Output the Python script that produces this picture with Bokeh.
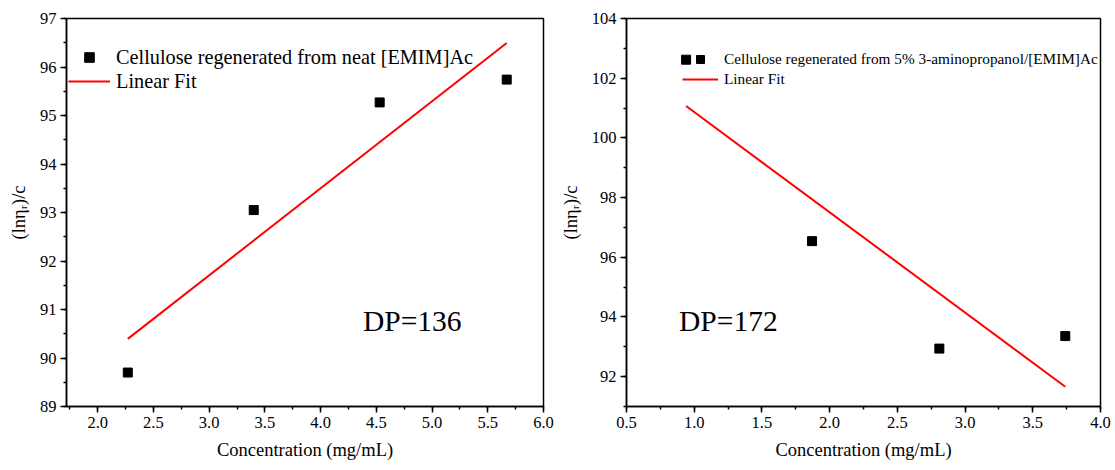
import numpy as np
from bokeh.plotting import figure
from bokeh.layouts import row
from bokeh.models import (Legend, LegendItem, Label, Range1d, SingleIntervalTicker,
                          NumeralTickFormatter)
from bokeh.embed import file_html
from bokeh.resources import INLINE

# ---- data ----
conc_a = [2.27, 3.40, 4.53, 5.67]
visc_a = [89.70, 93.05, 95.27, 95.74]
conc_b = [0.94, 1.87, 2.81, 3.74]
visc_b = [102.62, 96.54, 92.94, 93.36]
label_a = "Cellulose regenerated from neat [EMIM]Ac"
label_b = "Cellulose regenerated from 5% 3-aminopropanol/[EMIM]Ac"
fit_label = "Linear Fit"
dp_a = "DP=136"
dp_b = "DP=172"
x_title = "Concentration (mg/mL)"
y_title = "(lnη\u1d63)/c"

FONT = "'Liberation Serif', 'Times New Roman', serif"


def make(conc, visc, xr, yr, xint, yint, width, bl, br, leg_label, leg_font,
         leg_loc, glyph_w, row_h, dp_text, dp_xy):
    p = figure(width=width, height=470, x_range=Range1d(*xr), y_range=Range1d(*yr),
               output_backend="svg", toolbar_location=None,
               min_border_left=bl, min_border_right=br, min_border_top=18,
               min_border_bottom=64)
    p.grid.visible = False
    p.outline_line_color = "black"
    p.outline_line_width = 1.5
    p.background_fill_color = "white"
    p.border_fill_color = "white"

    p.xaxis.ticker = SingleIntervalTicker(interval=xint, num_minor_ticks=2)
    p.yaxis.ticker = SingleIntervalTicker(interval=yint, num_minor_ticks=2)
    p.xaxis.formatter = NumeralTickFormatter(format="0.0")
    p.yaxis.formatter = NumeralTickFormatter(format="0")
    for ax in (p.xaxis[0], p.yaxis[0]):
        ax.axis_line_color = "black"
        ax.axis_line_width = 1.5
        ax.major_tick_line_width = 1.5
        ax.minor_tick_line_width = 1.5
        ax.major_tick_out = 6
        ax.major_tick_in = 0
        ax.minor_tick_out = 3
        ax.minor_tick_in = 0
        ax.major_label_text_font = FONT
        ax.major_label_text_font_size = "16.5px"
        ax.major_label_text_color = "black"
        ax.axis_label_text_font = FONT
        ax.axis_label_text_font_size = "18.5px"
        ax.axis_label_text_font_style = "normal"
        ax.axis_label_text_color = "black"
        ax.major_label_standoff = 4
    p.xaxis.axis_label = x_title
    p.yaxis.axis_label = y_title
    p.xaxis.axis_label_standoff = 9
    p.yaxis.axis_label_standoff = 8

    a, b = np.polyfit(conc, visc, 1)
    fx = [min(conc), max(conc)]
    fy = [a * v + b for v in fx]
    ln = p.line(fx, fy, line_color="#ff0000", line_width=2)
    sc = p.scatter(conc, visc, marker="square", size=9, fill_color="black",
                   line_color="black")

    leg = Legend(items=[LegendItem(label=leg_label, renderers=[sc]),
                        LegendItem(label=fit_label, renderers=[ln])],
                 location=leg_loc, border_line_alpha=0, background_fill_alpha=0,
                 padding=0, margin=0, spacing=0, glyph_width=glyph_w,
                 glyph_height=row_h, label_height=row_h, label_standoff=6,
                 label_text_font=FONT, label_text_font_size=leg_font,
                 label_text_color="black")
    p.add_layout(leg, "center")

    p.add_layout(Label(x=dp_xy[0], y=dp_xy[1], text=dp_text, text_font=FONT,
                       text_font_size="29.5px", text_baseline="middle",
                       text_color="black"))
    return p


p1 = make(conc_a, visc_a, (1.72, 6.0), (89, 97), 0.5, 1, 557, 66, 14,
          label_a, "20.3px", (2, 313), 42, 24, dp_a, (4.38, 90.77))
p2 = make(conc_b, visc_b, (0.5, 4.0), (91, 104), 0.5, 2, 558, 63, 15,
          label_b, "15.3px", (56, 317), 36, 20, dp_b, (0.888, 93.88))

layout = row(p1, p2)
open("out.html", "w").write(file_html(layout, INLINE))
